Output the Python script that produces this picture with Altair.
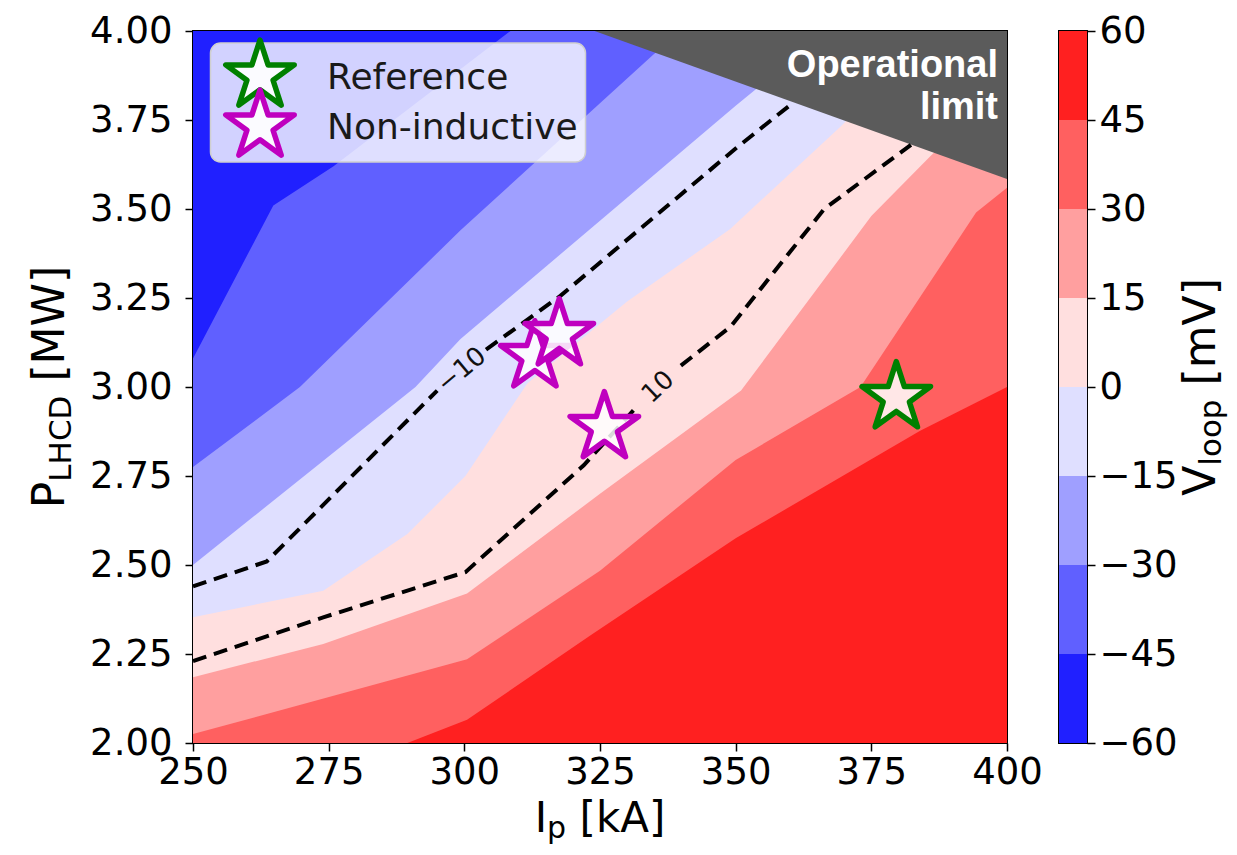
import altair as alt
import pandas as pd

# ---------------- data ----------------
ip_ticks = [250, 275, 300, 325, 350, 375, 400]
p_ticks = [2.00, 2.25, 2.50, 2.75, 3.00, 3.25, 3.50, 3.75, 4.00]
cbar_levels = [-60, -45, -30, -15, 0, 15, 30, 45, 60]
band_colors = ["#2020ff", "#6060ff", "#9f9fff", "#dfdfff",
               "#ffdfdf", "#ff9f9f", "#ff6060", "#ff2020"]

# filled-contour boundaries (Ip [kA], P [MW]); the region above each is the next band down
base_ip = [250, 400]
base_p = [2.0, 2.0]
b45_ip = [250, 289.5, 300.5, 323, 350, 384, 400]
b45_p = [2.0, 2.0, 2.065, 2.30, 2.575, 2.877, 3.0]
b30_ip = [250, 300.5, 325, 350, 373, 394.3, 400]
b30_p = [2.025, 2.235, 2.484, 2.795, 3.0, 3.49, 3.56]
b15_ip = [250, 274, 300.5, 325, 351, 375, 386, 400]
b15_p = [2.185, 2.278, 2.42, 2.70, 2.99, 3.48, 3.65, 3.85]
b0_ip = [250, 274, 289.5, 300.2, 311.6, 330, 349, 369.5, 386, 400]
b0_p = [2.353, 2.428, 2.587, 2.75, 3.01, 3.24, 3.444, 3.734, 4.0, 4.0]
bm15_ip = [250, 291, 299.3, 350, 354, 366, 400]
bm15_p = [2.50, 3.0, 3.135, 3.79, 3.84, 4.0, 4.0]
bm30_ip = [250, 269.7, 299.3, 334.9, 340, 400]
bm30_p = [2.775, 3.0, 3.44, 3.935, 4.0, 4.0]
bm45_ip = [250, 264.8, 275.9, 308.5, 400]
bm45_p = [3.08, 3.51, 3.62, 4.0, 4.0]

# dashed iso-lines (-10 and +10 mV), split where the inline label sits
m10_ip = [250, 263.6, 295, 304, 317.7, 350, 360.7]
m10_p = [2.44, 2.51, 2.99, 3.105, 3.256, 3.67, 3.80]
m10_seg = [0, 0, 0, 1, 1, 1, 1]
p10_ip = [250, 274, 300.2, 322, 331.5, 339.9, 349.1, 366.3, 382.3]
p10_p = [2.23, 2.353, 2.48, 2.78, 2.94, 3.06, 3.17, 3.50, 3.68]
p10_seg = [0, 0, 0, 0, 0, 1, 1, 1, 1]

clabel_text = ["\u221210", "10"]
clabel_ip = [299.5, 335.7]
clabel_p = [3.0475, 3.0]

# operational limit (upper-right corner)
oplim_ip = [324, 400]
oplim_p = [4.0, 3.584]

# markers
star_kind = ["Reference", "Non-inductive", "Non-inductive", "Non-inductive"]
star_ip = [379.6, 313.0, 317.5, 325.8]
star_p = [2.970, 3.085, 3.147, 2.886]
legend_labels = ["Reference", "Non-inductive"]
legend_colors = ["#008000", "#bf00bf"]

# ---------------- chart ----------------
W, H = 814, 712
FONT = "DejaVu Sans"
STAR = ("M0,-1L0.2245,-0.309L0.951,-0.309L0.363,0.118L0.588,0.809L0,0.382"
        "L-0.588,0.809L-0.363,0.118L-0.951,-0.309L-0.2245,-0.309Z")
STAR_SIZE = 5184
P_TOP = p_ticks[-1]

xs = alt.Scale(domain=[ip_ticks[0], ip_ticks[-1]], nice=False, zero=False)
ys = alt.Scale(domain=[p_ticks[0], p_ticks[-1]], nice=False, zero=False)
xax = alt.Axis(values=ip_ticks, title=None, labelPadding=3, labelOverlap=False, labelFlush=False)
yax = alt.Axis(values=p_ticks, format=".2f", title=None, labelPadding=13, labelOverlap=False,
               labelFlush=False)
X = lambda: alt.X("Ip:Q", scale=xs, axis=xax)
Y = lambda: alt.Y("P:Q", scale=ys, axis=yax)

one = pd.DataFrame({"k": [0]})

layers = []
boundaries = [(base_ip, base_p), (b45_ip, b45_p), (b30_ip, b30_p), (b15_ip, b15_p),
              (b0_ip, b0_p), (bm15_ip, bm15_p), (bm30_ip, bm30_p), (bm45_ip, bm45_p)]
for k, (ips, ps) in enumerate(boundaries):
    df = pd.DataFrame({"Ip": ips, "P": ps})
    layers.append(
        alt.Chart(df).mark_area(color=band_colors[7 - k], clip=True, interpolate="linear")
        .encode(x=X(), y=Y(), y2=alt.datum(P_TOP))
    )

# operational limit triangle
layers.append(
    alt.Chart(pd.DataFrame({"Ip": oplim_ip, "P": oplim_p}))
    .mark_area(color="#5b5b5b", clip=True)
    .encode(x=X(), y=Y(), y2=alt.datum(P_TOP))
)

# dashed contour lines
for ips, ps, seg in [(m10_ip, m10_p, m10_seg), (p10_ip, p10_p, p10_seg)]:
    df = pd.DataFrame({"Ip": ips, "P": ps, "seg": seg})
    layers.append(
        alt.Chart(df).mark_line(color="black", strokeWidth=4, strokeDash=[14, 8], clip=True)
        .encode(x=X(), y=Y(), detail="seg:N")
    )

# contour labels
for t, ip, p, ang in zip(clabel_text, clabel_ip, clabel_p, [320, 316.8]):
    df = pd.DataFrame({"Ip": [ip], "P": [p], "t": [t]})
    layers.append(
        alt.Chart(df).mark_text(font=FONT, fontSize=26, color="#111111", angle=ang,
                                align="center", baseline="middle")
        .encode(x=X(), y=Y(), text="t:N")
    )

# stars
star_df = pd.DataFrame({"Ip": star_ip, "P": star_p, "kind": star_kind})
layers.append(
    alt.Chart(star_df).mark_point(shape=STAR, size=STAR_SIZE, filled=True, fill="white",
                                  fillOpacity=0.85, strokeWidth=5.5, strokeJoin="round", opacity=1)
    .encode(x=X(), y=Y(),
            stroke=alt.Stroke("kind:N", scale=alt.Scale(domain=legend_labels, range=legend_colors),
                              legend=None))
)

# legend (drawn by hand to reproduce the overlapping symbols)
layers.append(
    alt.Chart(one).mark_rect(fill="white", fillOpacity=0.8, stroke="#cfcfcf", strokeWidth=1.5,
                             cornerRadius=10)
    .encode(x=alt.value(17.5), x2=alt.value(392.5), y=alt.value(12), y2=alt.value(131))
)
for i, (lab, col) in enumerate(zip(legend_labels, legend_colors)):
    layers.append(
        alt.Chart(one).mark_point(shape=STAR, size=STAR_SIZE, filled=True, fill="white",
                                  fillOpacity=0.9, stroke=col, strokeWidth=5.5,
                                  strokeJoin="round", opacity=1)
        .encode(x=alt.value(67), y=alt.value(45 + 50 * i))
    )
    layers.append(
        alt.Chart(one).mark_text(text=lab, font=FONT, fontSize=36, color="#1a1a1a",
                                 align="left", baseline="alphabetic")
        .encode(x=alt.value(134), y=alt.value(58 + 50 * i))
    )

# operational limit label
for txt, yy in [("Operational", 46), ("limit", 88)]:
    layers.append(
        alt.Chart(one).mark_text(text=txt, font="Liberation Sans", fontWeight="bold",
                                 fontSize=38, color="white", align="right", baseline="alphabetic")
        .encode(x=alt.value(805), y=alt.value(yy))
    )


def tx(text, x, y, size, angle=0):
    return (alt.Chart(one).mark_text(text=text, font=FONT, fontSize=size, angle=angle,
                                     align="left", baseline="alphabetic", color="black")
            .encode(x=alt.value(x), y=alt.value(y)))


# axis titles with subscripts
layers += [
    tx("P", -129, 477.2, 44, 270),
    tx("LHCD", -122, 450.7, 31, 270),
    tx("[MW]", -129, 350.6, 44, 270),
    tx("I", 341.7, 800.5, 42),
    tx("p", 354.1, 806.5, 30),
    tx("[kA]", 386.5, 800.5, 42),
]

main = alt.layer(*layers).properties(width=W, height=H)

# colorbar
cb_df = pd.DataFrame({"lo": cbar_levels[:-1], "hi": cbar_levels[1:], "c": band_colors})
cbar_rect = alt.Chart(cb_df).mark_rect().encode(
    y=alt.Y("lo:Q", scale=alt.Scale(domain=[cbar_levels[0], cbar_levels[-1]], nice=False, zero=False),
            axis=alt.Axis(orient="right", values=cbar_levels, title=None, tickSize=8,
                          labelPadding=4, labelOverlap=False, labelFlush=False,
                          labelExpr="replace(datum.label, '-', '\u2212')")),
    y2="hi:Q",
    x=alt.value(0), x2=alt.value(28),
    fill=alt.Fill("c:N", scale=None),
)
cbar = alt.layer(
    cbar_rect,
    tx("V", 156, 464.8, 44, 270),
    tx("loop", 162, 434.7, 31, 270),
    tx("[mV]", 156, 354.5, 44, 270),
).properties(width=28, height=H)

chart = (
    alt.hconcat(main, cbar, spacing=52, bounds="flush")
    .properties(padding={"left": 19, "top": 3, "right": 0, "bottom": 0}, background="white")
    .configure_view(stroke="black", strokeWidth=2)
    .configure_axis(labelFont=FONT, labelFontSize=37, labelColor="black", tickColor="black",
                    tickWidth=1.5, tickSize=8, domain=False, grid=False)
)

chart.save("out.html", embed_options={"renderer": "svg", "actions": False})
